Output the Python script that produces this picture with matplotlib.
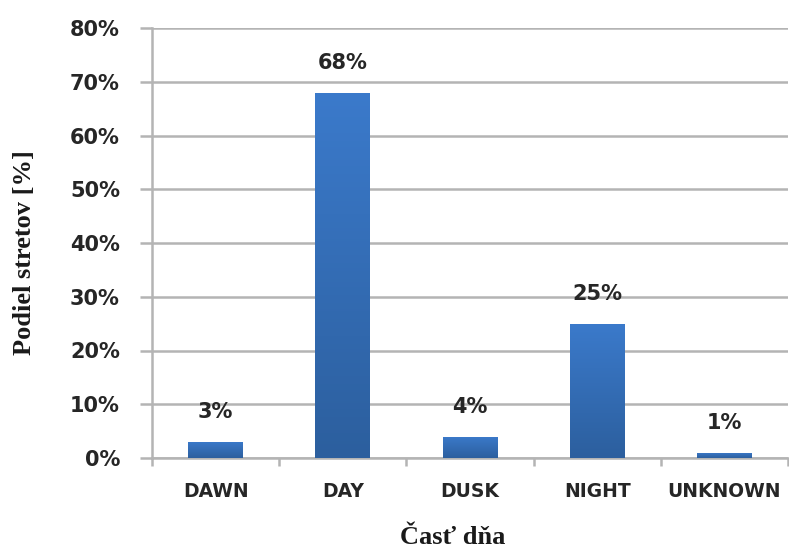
import numpy as np
import matplotlib.pyplot as plt
from matplotlib.colors import LinearSegmentedColormap

categories = ["DAWN", "DAY", "DUSK", "NIGHT", "UNKNOWN"]
shares = [3, 68, 4, 25, 1]
y_ticks = [0, 10, 20, 30, 40, 50, 60, 70, 80]

fig = plt.figure(figsize=(7.89, 5.50), dpi=100)
ax = fig.add_axes([152 / 789, (550 - 458) / 550, (788 - 152) / 789, (458 - 28) / 550])

grid_col = "#b4b4b4"
text_col = "#262626"
tick_font = "DejaVu Sans"
label_font = "Liberation Serif"

x = np.arange(len(categories))
bars = ax.bar(x, shares, width=0.43, color="#3670bb", zorder=3)

# vertical gradient fill for each bar, lighter on top
cmap = LinearSegmentedColormap.from_list("barfill", ["#2c5f9e", "#3b7acb"])
grad = np.linspace(0, 1, 256).reshape(-1, 1)
for b in bars:
    x0, w, h = b.get_x(), b.get_width(), b.get_height()
    im = ax.imshow(grad, extent=[x0, x0 + w, 0, h], origin="lower", cmap=cmap,
                   aspect="auto", zorder=3)
    im.set_clip_path(b)
    ax.annotate(f"{h:g}%", (b.get_x() + w / 2, h), xytext=(0, 14),
                textcoords="offset points", ha="center", va="bottom",
                fontsize=15, fontweight="bold", family=tick_font, color=text_col)

ax.set_xlim(-0.5, len(categories) - 0.5)
ax.set_ylim(0, 80)
ax.set_yticks(y_ticks)
ax.set_yticklabels([f"{v}%" for v in y_ticks], fontsize=15, fontweight="bold",
                   family=tick_font, color=text_col)
ax.yaxis.grid(True, color=grid_col, linewidth=1.8, zorder=0)
ax.set_axisbelow(True)
ax.tick_params(axis="y", length=8.6, width=1.8, color=grid_col, pad=14.5)

ax.set_xticks(x)
ax.set_xticklabels(categories, fontsize=13.5, fontweight="bold", family=tick_font,
                   color=text_col)
ax.set_xticks(np.arange(len(categories) + 1) - 0.5, minor=True)
ax.tick_params(axis="x", which="major", length=0, pad=17)
ax.tick_params(axis="x", which="minor", length=6, width=1.8, color=grid_col)

for side in ("top", "right"):
    ax.spines[side].set_visible(False)
for side in ("left", "bottom"):
    ax.spines[side].set_color(grid_col)
    ax.spines[side].set_linewidth(1.8)

fig.text(25 / 789, 1 - 253 / 550, "Podiel stretov [%]", rotation=90, ha="center",
         va="center", fontsize=19, fontweight="bold", family=label_font, color="#1a1a1a")
fig.text(453 / 789, 1 - 538 / 550, "Časť dňa", ha="center", va="center",
         fontsize=19, fontweight="bold", family=label_font, color="#1a1a1a")

fig.savefig("out.png", dpi=100)
